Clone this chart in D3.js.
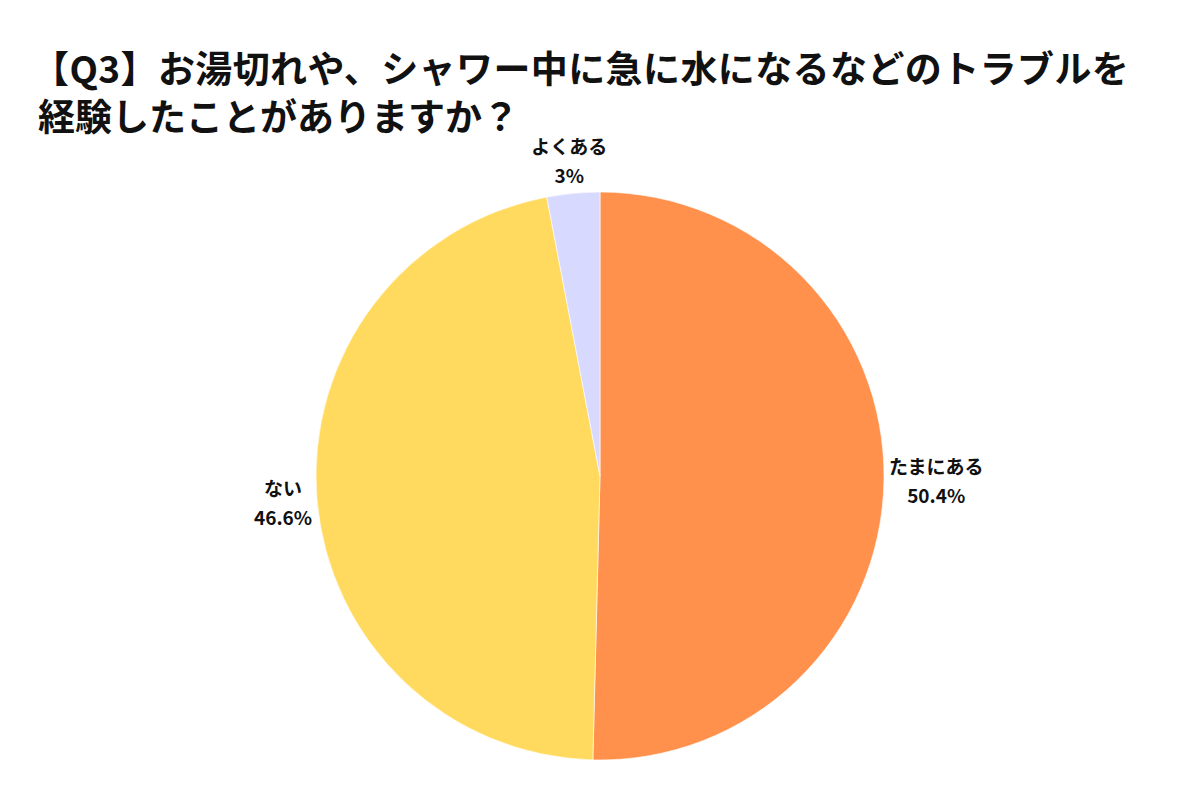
<!DOCTYPE html>
<html>
<head>
<meta charset="utf-8">
<script src="https://cdn.jsdelivr.net/npm/d3@7"></script>
<style>
  html, body { margin: 0; padding: 0; background: #fff; }
  svg { display: block; font-family: "Noto Sans CJK JP", "Noto Sans", sans-serif; }
</style>
</head>
<body>
<div id="chart"></div>
<script>
// データ
const titleLines = ['【Q3】お湯切れや、シャワー中に急に水になるなどのトラブルを', '経験したことがありますか？'];
const categories = ['たまにある', 'ない', 'よくある'];
const values     = [50.4, 46.6, 3];
const valueLabels = ['50.4%', '46.6%', '3%'];
const colors     = ['#FF914D', '#FFDA5E', '#D8D9FF'];

(function initPie() {
  const width = 1200, height = 800;
  const svg = d3.select('#chart').append('svg')
    .attr('width', width).attr('height', height)
    .attr('viewBox', `0 0 ${width} ${height}`);

  // タイトル（1つの text に2行の tspan）
  svg.append('text')
    .attr('class', 'title')
    .attr('font-size', 37)
    .attr('font-weight', 700)
    .attr('fill', '#111')
    .selectAll('tspan')
    .data(titleLines)
    .join('tspan')
    .attr('x', (d, i) => i === 0 ? 32 : 38)
    .attr('y', (d, i) => 83 + i * 48)
    .attr('letter-spacing', (d, i) => i === 0 ? 0.4 : 0)
    .text(d => d);

  const cx = 600, cy = 476, R = 284;
  const data = categories.map((c, i) => ({ cat: c, value: values[i], label: valueLabels[i], color: colors[i] }));

  const pie = d3.pie().value(d => d.value).sort(null);
  const arc = d3.arc().innerRadius(0).outerRadius(R);
  const g = svg.append('g').attr('transform', `translate(${cx},${cy})`);

  g.selectAll('path.slice')
    .data(pie(data))
    .join('path')
    .attr('class', 'slice')
    .attr('d', arc)
    .attr('fill', d => d.data.color)
    .attr('stroke', '#fff')
    .attr('stroke-width', 0.6);

  // ラベル（外側、箱の近い辺が円から gap の位置）
  const gap = 5;
  const labels = g.selectAll('g.lbl')
    .data(pie(data))
    .join('g')
    .attr('class', 'lbl');

  labels.each(function(d) {
    const el = d3.select(this);
    const t = el.append('text')
      .attr('text-anchor', 'middle')
      .attr('font-size', 19)
      .attr('font-weight', 700)
      .attr('fill', '#111');
    t.append('tspan').attr('x', 0).attr('y', 0).text(d.data.cat);
    t.append('tspan').attr('x', 0).attr('y', 29).text(d.data.label);
    const bb = t.node().getBBox();
    const a = (d.startAngle + d.endAngle) / 2;
    const px = (R + gap) * Math.sin(a), py = -(R + gap) * Math.cos(a);
    const ccx = px + Math.sin(a) * bb.width / 2;
    const ccy = py - Math.cos(a) * bb.height / 2;
    el.attr('transform', `translate(${ccx - (bb.x + bb.width / 2)},${ccy - (bb.y + bb.height / 2)})`);
  });
})();
</script>
</body>
</html>
